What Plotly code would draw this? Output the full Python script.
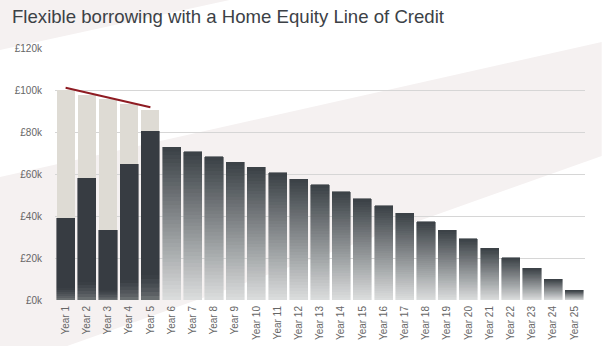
import plotly.graph_objects as go
import numpy as np

# ---------------- data (values in £k) ----------------
years = [f"Year {i}" for i in range(1, 26)]
drawn_balance = [38.9, 57.9, 33.3, 64.8, 80.5, 72.7, 70.5, 68.3, 65.7, 63.2,
                 60.5, 57.6, 54.8, 51.6, 48.1, 44.9, 41.3, 37.3, 33.3, 29.2,
                 24.6, 20.2, 15.1, 10.0, 4.6]
credit_limit = [100.0, 97.6, 95.6, 93.2, 90.5]          # draw period, years 1-5
limit_line_x = ["Year 1", "Year 5"]
limit_line_y = [101.1, 91.8]
y_ticks = [0, 20, 40, 60, 80, 100, 120]
y_tick_labels = ["£0k", "£20k", "£40k", "£60k", "£80k", "£100k", "£120k"]

# ---------------- layout geometry (pixels) ----------------
W, H = 602, 346
L, R, T, B = 55.4, 16.7, 48, 46
pw, ph = W - L - R, H - T - B


def px2paper(px, py):
    return (px - L) / pw, (H - B - py) / ph


def mix(c1, c2, t):
    return "rgb(%d,%d,%d)" % tuple(round(a + (b - a) * t) for a, b in zip(c1, c2))


fig = go.Figure()

# gradient bars built from stacked slices of each bar
N = 40
dark_top, dark_bot = (55, 60, 66), (120, 124, 126)
grad_top, grad_bot = (58, 64, 69), (220, 222, 222)
draw_period = len(credit_limit)
for k in range(N):
    t = (k + 0.5) / N  # 0 bottom -> 1 top
    cols = []
    for i in range(len(years)):
        if i < draw_period:
            tt = min(1.0, t / 0.15)
            cols.append(mix(dark_bot, dark_top, tt ** 0.6))
        else:
            cols.append(mix(grad_bot, grad_top, t))
    fig.add_trace(go.Bar(
        x=years, y=[v / N for v in drawn_balance],
        marker=dict(color=cols, line=dict(color=cols, width=0.6)),
        width=0.85, hoverinfo="skip", showlegend=False,
    ))

# available (undrawn) credit on top of the drawn balance, years 1-5
available = [lim - d for lim, d in zip(credit_limit, drawn_balance[:draw_period])]
fig.add_trace(go.Bar(
    x=years[:draw_period], y=available,
    marker=dict(color="#dedbd4", line=dict(width=0)),
    width=0.85, hoverinfo="skip", showlegend=False,
))

# declining credit limit line
fig.add_trace(go.Scatter(
    x=limit_line_x, y=limit_line_y, mode="lines",
    line=dict(color="#8e1b22", width=2), hoverinfo="skip", showlegend=False,
))

# decorative background bands
band_color = "#f5f1f1"
def poly(points):
    pts = [px2paper(x, y) for x, y in points]
    return "M " + " L ".join(f"{a:.4f},{b:.4f}" for a, b in pts) + " Z"

shapes = [
    dict(type="path", xref="paper", yref="paper", layer="below",
         path=poly([(0, 177), (602, 42), (602, 156), (0, 370)]),
         fillcolor=band_color, line=dict(width=0)),
    dict(type="path", xref="paper", yref="paper", layer="below",
         path=poly([(0, 0), (230, 0), (0, 50)]),
         fillcolor=band_color, line=dict(width=0)),
]

fig.update_layout(
    width=W, height=H,
    margin=dict(l=L, r=R, t=T, b=B, pad=0, autoexpand=False),
    paper_bgcolor="white", plot_bgcolor="rgba(0,0,0,0)",
    barmode="stack", bargap=0.15,
    shapes=shapes,
    font=dict(family="Liberation Sans, Arial, sans-serif", color="#555"),
    title=dict(
        text="Flexible borrowing with a Home Equity Line of Credit",
        font=dict(size=18.6, color="#3c4146"),
        x=12 / W, xanchor="left", xref="container",
        y=1 - 16 / H, yanchor="middle", yref="container",
    ),
    xaxis=dict(
        type="category", tickangle=-90, tickfont=dict(size=10, color="#666"),
        showgrid=False, zeroline=False, showline=False, ticks="",
        ticklabelstandoff=3, automargin=False,
    ),
    yaxis=dict(
        range=[0, 120], tickvals=y_ticks, ticktext=y_tick_labels,
        tickfont=dict(size=10, color="#666"),
        showgrid=True, gridcolor="#d6d6d6", gridwidth=1,
        zeroline=False, showline=False, ticks="", ticklabelstandoff=12,
        automargin=False,
    ),
)

fig.write_html("out.html")
